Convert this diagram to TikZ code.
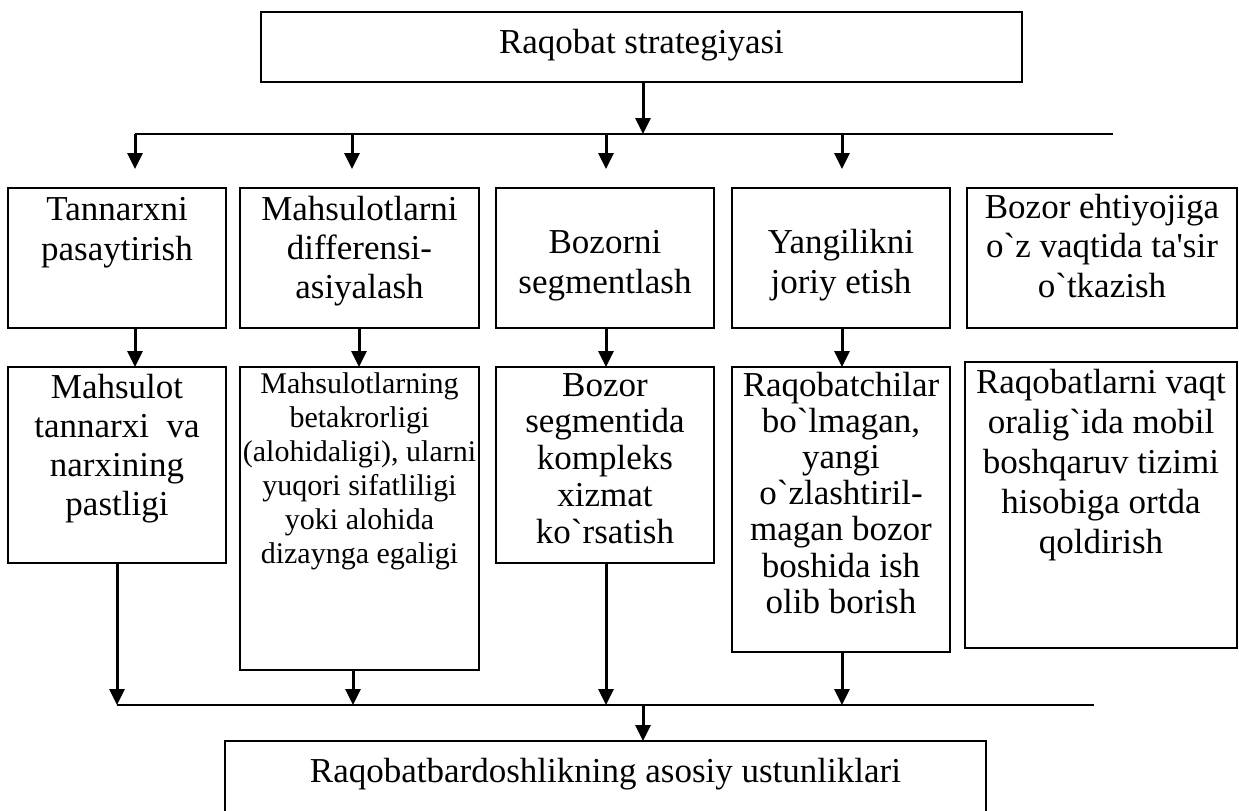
\documentclass[tikz,border=0pt]{standalone}
\usepackage{fontspec}
\setmainfont{Liberation Serif}[Ligatures=TeXOff]
\usetikzlibrary{arrows.meta,calc}
\newcommand\boxtxt[6]{\parbox[c][#2][t]{#1}{\centering\fontsize{#3}{#4}\selectfont\rule{0pt}{#5}#6\par}}
\tikzset{
  box/.style={draw, line width=0.7pt, inner sep=0pt, outer sep=0pt, anchor=north west},
  ln/.style={line width=1pt},
  arr/.style={line width=1.5pt, -{Triangle[length=8pt,width=7.5pt]}},
}
\begin{document}
\begin{tikzpicture}[x=0.5pt, y=-0.5pt]
\useasboundingbox (0,0) rectangle (1239,810);
\fill[white] (0,0) rectangle (1239,810);

% top box
\node[box] (T) at (261,12) {\boxtxt{380.5pt}{35pt}{17.5}{20}{20.5pt}{Raqobat strategiyasi}};

% first row
\node[box] (b1) at (8,188) {\boxtxt{109pt}{70pt}{17.5}{20}{16pt}{Tannarxni\\pasaytirish}};
\node[box] (b2) at (240,188) {\boxtxt{119.5pt}{70pt}{17.5}{19.5}{16pt}{Mahsulotlarni\\differensi-\\asiyalash}};
\node[box] (b3) at (496,188) {\boxtxt{109pt}{70pt}{17.5}{20}{32.5pt}{Bozorni\\segmentlash}};
\node[box] (b4) at (732,188) {\boxtxt{109pt}{70pt}{17.5}{20}{32.5pt}{Yangilikni\\joriy etish}};
\node[box] (b5) at (967,188) {\boxtxt{135pt}{70pt}{17.5}{19.75}{15pt}{Bozor ehtiyojiga\\o`z vaqtida ta'sir\\o`tkazish}};

% second row
\node[box] (b6) at (8,367) {\boxtxt{109pt}{98pt}{17.5}{19.5}{15.5pt}{Mahsulot\\tannarxi\ \ va\\narxining\\pastligi}};
\node[box] (b7) at (240,367) {\boxtxt{119.5pt}{151.5pt}{15}{17}{13pt}{Mahsulotlarning\\betakrorligi\\(alohidaligi), ularni\\yuqori sifatliligi\\yoki alohida\\dizaynga egaligi}};
\node[box] (b8) at (496,367) {\boxtxt{109pt}{98pt}{17.5}{18.4}{14.5pt}{Bozor\\segmentida\\kompleks\\xizmat\\ko`rsatish}};
\node[box] (b9) at (732,367) {\boxtxt{109pt}{142.5pt}{17.5}{18.1}{14.5pt}{Raqobatchilar\\bo`lmagan,\\yangi\\o`zlashtiril-\\magan bozor\\boshida ish\\olib borish}};
\node[box] (b10) at (965,362) {\boxtxt{136pt}{143pt}{17.5}{20}{15.5pt}{Raqobatlarni vaqt\\oralig`ida mobil\\boshqaruv tizimi\\hisobiga ortda\\qoldirish}};

% bottom box (its lower edge lies below the picture)
\node[inner sep=0pt, outer sep=0pt, anchor=north west] (B) at (225,741) {\boxtxt{380.5pt}{50pt}{17.5}{20}{20.5pt}{Raqobatbardoshlikning asosiy ustunliklari}};
\draw[line width=0.7pt] (B.south west) -- (B.north west) -- (B.north east) -- (B.south east);

% top bus
\coordinate (ta) at (643,134);
\coordinate (t1) at (135,134);
\coordinate (t2) at (352,134);
\coordinate (t3) at (606,134);
\coordinate (t4) at (842,134);
\coordinate (tR) at (1113,134);
\draw[ln] (t1) -- (tR);
\draw[arr] (T.south -| ta) -- (ta);
\draw[arr, shorten >=9.5pt] (t1) -- (t1 |- b1.north);
\draw[arr, shorten >=9.5pt] (t2) -- (t2 |- b2.north);
\draw[arr, shorten >=9.5pt] (t3) -- (t3 |- b3.north);
\draw[arr, shorten >=9.5pt] (t4) -- (t4 |- b4.north);

% row to row
\coordinate (v1) at (135,0);
\coordinate (v2) at (359,0);
\coordinate (v3) at (606,0);
\coordinate (v4) at (842,0);
\draw[arr] (b1.south -| v1) -- (b6.north -| v1);
\draw[arr] (b2.south -| v2) -- (b7.north -| v2);
\draw[arr] (b3.south -| v3) -- (b8.north -| v3);
\draw[arr] (b4.south -| v4) -- (b9.north -| v4);

% bottom bus
\coordinate (u1) at (117,705);
\coordinate (u2) at (353,705);
\coordinate (u3) at (606,705);
\coordinate (u4) at (842,705);
\coordinate (uM) at (643,705);
\coordinate (uR) at (1094,705);
\draw[ln] (u1) -- (uR);
\draw[arr] (b6.south -| u1) -- (u1);
\draw[arr] (b7.south -| u2) -- (u2);
\draw[arr] (b8.south -| u3) -- (u3);
\draw[arr] (b9.south -| u4) -- (u4);
\draw[arr] (uM) -- (B.north -| uM);
\end{tikzpicture}
\end{document}
